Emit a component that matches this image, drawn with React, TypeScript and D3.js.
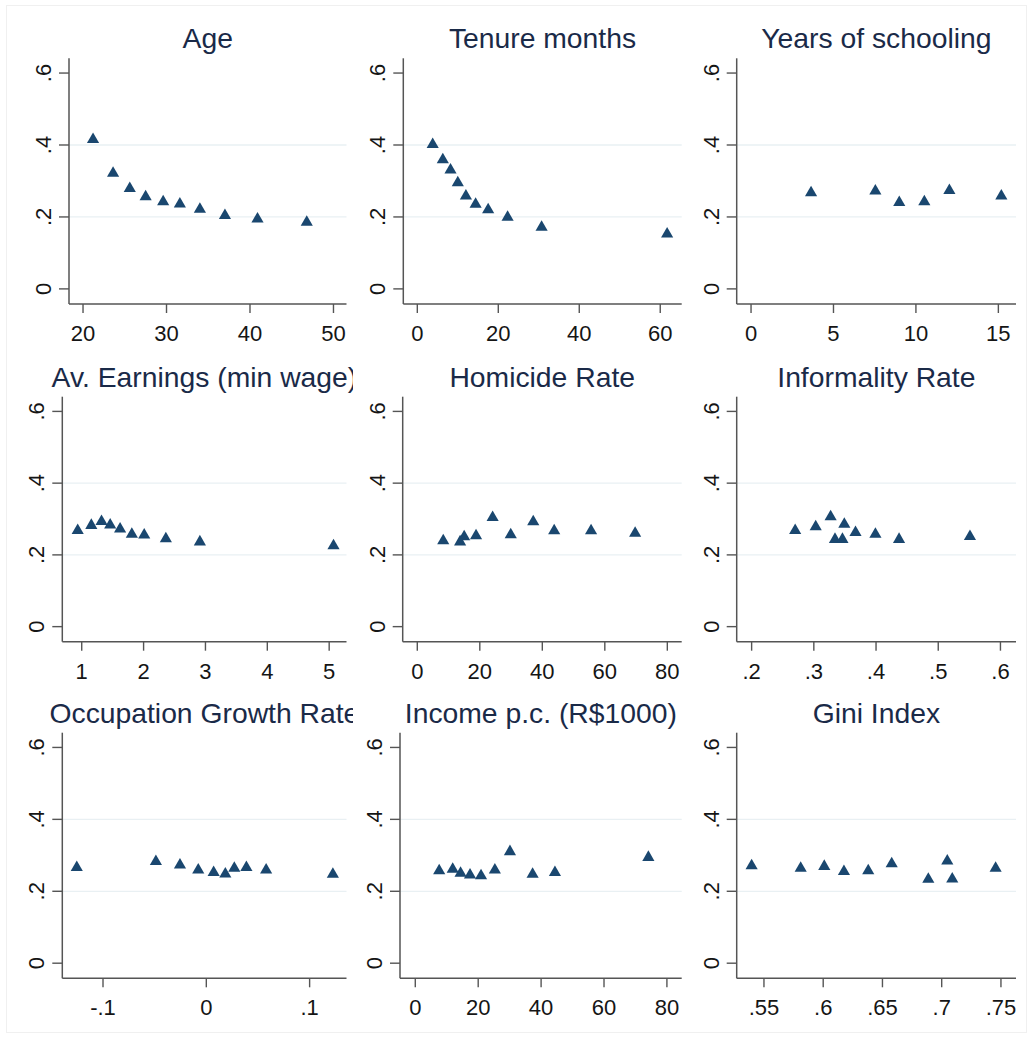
import React from "react";
import * as d3 from "d3";

// ---------- data ----------
const titles = [
  "Age",
  "Tenure months",
  "Years of schooling",
  "Av. Earnings (min wage)",
  "Homicide Rate",
  "Informality Rate",
  "Occupation Growth Rate",
  "Income p.c. (R$1000)",
  "Gini Index",
];

const ageX = [21.2, 23.6, 25.6, 27.5, 29.6, 31.6, 34.0, 37.0, 40.9, 46.8];
const ageY = [0.42, 0.326, 0.284, 0.261, 0.247, 0.241, 0.226, 0.209, 0.199, 0.19];

const tenureX = [3.8, 6.3, 8.2, 10.0, 12.0, 14.4, 17.5, 22.3, 30.7, 61.7];
const tenureY = [0.406, 0.364, 0.335, 0.3, 0.263, 0.24, 0.225, 0.204, 0.176, 0.157];

const schoolX = [3.64, 7.54, 8.99, 10.51, 12.03, 15.18];
const schoolY = [0.272, 0.277, 0.245, 0.247, 0.278, 0.263];

const earnX = [0.935, 1.155, 1.32, 1.46, 1.62, 1.81, 2.01, 2.36, 2.91, 5.07];
const earnY = [0.273, 0.287, 0.298, 0.288, 0.277, 0.262, 0.26, 0.25, 0.241, 0.23];

const homX = [8.3, 13.7, 15.0, 18.8, 24.1, 29.9, 37.1, 43.8, 55.6, 69.7];
const homY = [0.244, 0.241, 0.255, 0.258, 0.309, 0.261, 0.297, 0.272, 0.272, 0.265];

const informX = [0.27, 0.303, 0.327, 0.334, 0.346, 0.349, 0.367, 0.399, 0.437, 0.551];
const informY = [0.273, 0.283, 0.311, 0.248, 0.248, 0.29, 0.267, 0.262, 0.248, 0.256];

const occX = [-0.1254, -0.0488, -0.0255, -0.0078, 0.0071, 0.0184, 0.0271, 0.0388, 0.0579, 0.1225];
const occY = [0.271, 0.2875, 0.278, 0.264, 0.257, 0.253, 0.269, 0.271, 0.264, 0.252];

const incomeX = [7.6, 11.9, 14.4, 17.4, 20.9, 25.3, 30.1, 37.3, 44.4, 74.1];
const incomeY = [0.262, 0.266, 0.255, 0.25, 0.248, 0.264, 0.315, 0.252, 0.257, 0.299];

const giniX = [0.5396, 0.581, 0.6009, 0.6175, 0.638, 0.6578, 0.6887, 0.7047, 0.7089, 0.7455];
const giniY = [0.276, 0.269, 0.274, 0.26, 0.262, 0.281, 0.238, 0.289, 0.239, 0.269];

const seriesX = [ageX, tenureX, schoolX, earnX, homX, informX, occX, incomeX, giniX];
const seriesY = [ageY, tenureY, schoolY, earnY, homY, informY, occY, incomeY, giniY];

const xTickValues = [
  [20, 30, 40, 50],
  [0, 20, 40, 60],
  [0, 5, 10, 15],
  [1, 2, 3, 4, 5],
  [0, 20, 40, 60, 80],
  [0.2, 0.3, 0.4, 0.5, 0.6],
  [-0.1, 0, 0.1],
  [0, 20, 40, 60, 80],
  [0.55, 0.6, 0.65, 0.7, 0.75],
];
const xTickLabels = [
  ["20", "30", "40", "50"],
  ["0", "20", "40", "60"],
  ["0", "5", "10", "15"],
  ["1", "2", "3", "4", "5"],
  ["0", "20", "40", "60", "80"],
  [".2", ".3", ".4", ".5", ".6"],
  ["-.1", "0", ".1"],
  ["0", "20", "40", "60", "80"],
  [".55", ".6", ".65", ".7", ".75"],
];
const xDomains: [number, number][] = [
  [18.32, 51.56],
  [-3.46, 65.3],
  [-0.87, 16.07],
  [0.686, 5.28],
  [-4.67, 84.6],
  [0.176, 0.625],
  [-0.1394, 0.1357],
  [-4.86, 84.7],
  [0.527, 0.7627],
];

const yTickValues = [0, 0.2, 0.4, 0.6];
const yTickLabels = ["0", ".2", ".4", ".6"];
const yGridValues = [0.2, 0.4];
const yDomain: [number, number] = [-0.042, 0.641];

// ---------- layout ----------
const W = 1033;
const H = 1038;
const plotLefts = [69, 403.3, 736.7, 62.3, 402.7, 736.7, 62.3, 400, 736.7];
const colRights = [346.5, 681.7, 1016];
const rowTops = [58.3, 396.7, 732.7];
const rowBottoms = [304, 641.7, 978.3];

const markerColor = "#1a476f";
const titleColor = "#1a2a48";
const tickColor = "#151515";
const axisColor = "#555555";
const gridColor = "#e9f0f3";
const fontFamily = "'Liberation Sans', Arial, Helvetica, sans-serif";

const triangle = d3.symbol(d3.symbolTriangle, 64)();

function Panel({ i }: { i: number }) {
  const row = Math.floor(i / 3);
  const col = i % 3;
  const left = plotLefts[i];
  const right = colRights[col];
  const top = rowTops[row];
  const bottom = rowBottoms[row];
  const x = d3.scaleLinear().domain(xDomains[i]).range([left, right]);
  const y = d3.scaleLinear().domain(yDomain).range([bottom, top]);
  const xs = seriesX[i];
  const ys = seriesY[i];
  const cx = (left + right) / 2;
  return (
    <g>
      {yGridValues.map((v) => (
        <line
          key={"g" + v}
          x1={left}
          x2={right}
          y1={y(v)}
          y2={y(v)}
          stroke={gridColor}
          strokeWidth={1.3}
        />
      ))}
      <g clipPath={col === 0 ? "url(#clipCol1)" : undefined}>
        <text
          x={cx}
          y={top - 10}
          textAnchor="middle"
          fontSize={28.3}
          fill={titleColor}
          fontFamily={fontFamily}
        >
          {titles[i]}
        </text>
      </g>
      {/* y axis */}
      <line x1={left} x2={left} y1={top} y2={bottom} stroke={axisColor} strokeWidth={1.5} />
      {yTickValues.map((v, k) => (
        <g key={"y" + v}>
          <line x1={left - 10} x2={left} y1={y(v)} y2={y(v)} stroke={axisColor} strokeWidth={1.4} />
          <text
            transform={`translate(${left - 18},${y(v)}) rotate(-90)`}
            textAnchor="middle"
            fontSize={22}
            fill={tickColor}
            fontFamily={fontFamily}
          >
            {yTickLabels[k]}
          </text>
        </g>
      ))}
      {/* x axis */}
      <line x1={left} x2={right} y1={bottom} y2={bottom} stroke={axisColor} strokeWidth={1.5} />
      {xTickValues[i].map((v, k) => (
        <g key={"x" + v}>
          <line x1={x(v)} x2={x(v)} y1={bottom} y2={bottom + 9} stroke={axisColor} strokeWidth={1.4} />
          <text
            x={x(v)}
            y={bottom + 37}
            textAnchor="middle"
            fontSize={22}
            fill={tickColor}
            fontFamily={fontFamily}
          >
            {xTickLabels[i][k]}
          </text>
        </g>
      ))}
      {xs.map((v, k) => (
        <path
          key={"p" + k}
          d={triangle || ""}
          transform={`translate(${x(v)},${y(ys[k]) + 1.7})`}
          fill={markerColor}
        />
      ))}
    </g>
  );
}

export default function App() {
  return (
    <svg
      width={W}
      height={H}
      style={{ position: "absolute", left: 0, top: 0, background: "#ffffff" }}
    >
      <defs>
        <clipPath id="clipCol1">
          <rect x={0} y={0} width={353} height={H} />
        </clipPath>
      </defs>
      <rect x={0} y={0} width={W} height={H} fill="#ffffff" />
      <rect x={6.5} y={5.5} width={W - 13} height={H - 11} fill="none" stroke="#f0f0f0" strokeWidth={1} />
      {titles.map((_, i) => (
        <Panel key={i} i={i} />
      ))}
    </svg>
  );
}
